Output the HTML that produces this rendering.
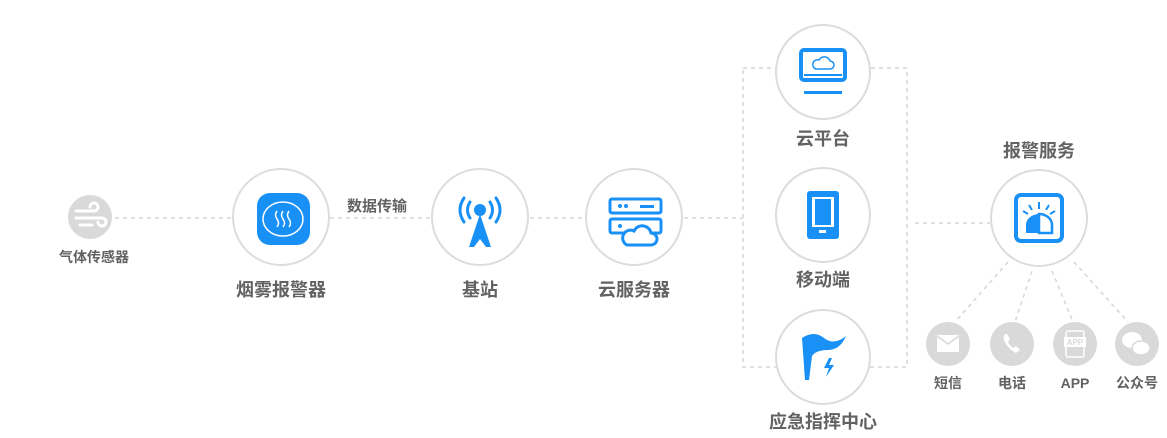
<!DOCTYPE html>
<html><head><meta charset="utf-8"><style>
body{margin:0;width:1167px;height:438px;background:#fff;overflow:hidden;font-family:"Liberation Sans","Noto Sans CJK SC",sans-serif}
svg{position:absolute;left:0;top:0}
.t{font-family:"Liberation Sans","Noto Sans CJK SC",sans-serif;font-weight:bold;fill:#626262;text-anchor:middle}
</style></head><body>
<svg width="1167" height="438" viewBox="0 0 1167 438">
<g stroke="#d6d6d6" stroke-width="1.5" stroke-dasharray="4,4" fill="none">
<line x1="115" y1="218" x2="232" y2="218"/>
<line x1="330" y1="218" x2="432" y2="218"/>
<line x1="530" y1="218" x2="586" y2="218"/>
<line x1="684" y1="218" x2="743" y2="218"/>
<rect x="743" y="68" width="164" height="299"/>
<line x1="915" y1="223" x2="990" y2="223"/>
<line x1="1008" y1="262" x2="955" y2="322"/>
<line x1="1032" y1="271" x2="1015" y2="322"/>
<line x1="1052" y1="271" x2="1073" y2="322"/>
<line x1="1074" y1="262" x2="1128" y2="322"/>
</g>
<g fill="#fff" stroke="#dcdcdc" stroke-width="2">
<circle cx="281" cy="217" r="48"/>
<circle cx="480" cy="217" r="48"/>
<circle cx="634" cy="217" r="48"/>
<circle cx="823" cy="72" r="47"/>
<circle cx="823" cy="215" r="47"/>
<circle cx="823" cy="357" r="47"/>
<circle cx="1039" cy="218" r="48"/>
</g>
<g fill="#d9d9d9">
<circle cx="90" cy="217" r="22"/>
<circle cx="948" cy="344" r="22"/>
<circle cx="1012" cy="344" r="22"/>
<circle cx="1075" cy="344" r="22"/>
<circle cx="1137" cy="344" r="22"/>
</g>
<g stroke="#fff" stroke-width="3" stroke-linecap="round" fill="none">
<path d="M76 211h18a4 4 0 1 0-4-4"/><path d="M76 218h26a4 4 0 1 1-4 4"/><path d="M80 225h12"/>
</g>
<rect x="257" y="193" width="53" height="52" rx="13" fill="#1890f5"/>
<ellipse cx="283" cy="219" rx="20" ry="17" fill="none" stroke="#fff" stroke-width="1.5"/>
<g stroke="#fff" stroke-width="1.5" fill="none"><path d="M277 211q-3 4 0 8t0 8"/><path d="M283 211q-3 4 0 8t0 8"/><path d="M289 211q-3 4 0 8t0 8"/></g>
<g fill="#1890f5"><circle cx="480" cy="210" r="6"/><path d="M480 214l-11 33h5l6-8 6 8h5z"/></g>
<g stroke="#1890f5" stroke-width="3" fill="none" stroke-linecap="round"><path d="M470 202q-5 8 0 16"/><path d="M490 202q5 8 0 16"/><path d="M464 198q-8 12 0 24"/><path d="M496 198q8 12 0 24"/></g>
<g stroke="#1890f5" stroke-width="3" fill="none"><rect x="610" y="199" width="51" height="14" rx="2"/><rect x="610" y="219" width="51" height="14" rx="2"/><path d="M627 245h24a6 6 0 0 0 0-12 9 9 0 0 0-17-2 6 6 0 0 0-7 14z" fill="#fff"/></g>
<g fill="#1890f5"><circle cx="620" cy="206" r="2"/><circle cx="626" cy="206" r="2"/><rect x="640" y="205" width="14" height="3"/><circle cx="620" cy="226" r="2"/></g>
<rect x="801" y="50" width="44" height="30" rx="3" fill="#fff" stroke="#1890f5" stroke-width="4"/>
<line x1="804" y1="75" x2="842" y2="75" stroke="#1890f5" stroke-width="2"/>
<rect x="804" y="91" width="38" height="3" fill="#1890f5"/>
<path d="M816 69h14a4 4 0 0 0 0-8 6 6 0 0 0-11-1 4 4 0 0 0-3 9z" fill="none" stroke="#1890f5" stroke-width="1.5"/>
<rect x="807" y="191" width="32" height="48" rx="3" fill="#1890f5"/>
<rect x="812" y="197" width="22" height="30" fill="#fff"/><rect x="815" y="199" width="16" height="26" fill="#1890f5"/>
<rect x="819" y="230" width="7" height="3" fill="#fff"/>
<path d="M802 338q12-8 22 0t22-2q-6 14-18 14t-16 6l-3 24h-4z" fill="#1890f5"/>
<path d="M829 358l-5 10h5l-3 9 8-12h-5l3-7z" fill="#1890f5"/>
<rect x="1016" y="195" width="46" height="46" rx="5" fill="none" stroke="#1890f5" stroke-width="4"/>
<path d="M1026 233v-8a13 11 0 0 1 13-11v19z" fill="#1890f5"/><path d="M1039 214a13 11 0 0 1 13 11v8h-13z" fill="none" stroke="#1890f5" stroke-width="2.5"/>
<g stroke="#1890f5" stroke-width="2"><line x1="1039" y1="202" x2="1039" y2="209"/><line x1="1029" y1="205" x2="1032" y2="210"/><line x1="1049" y1="205" x2="1046" y2="210"/><line x1="1023" y1="211" x2="1028" y2="214"/><line x1="1055" y1="211" x2="1050" y2="214"/></g>
<rect x="937" y="335" width="22" height="17" fill="#fff"/><path d="M937 336l11 8 11-8" stroke="#d9d9d9" stroke-width="1.5" fill="none"/>
<path d="M1005 334q-3 4 1 10t10 9l4-3-4-4-3 2q-3-2-5-6l2-3-3-5z" fill="#fff"/>
<rect x="1066" y="331" width="18" height="26" rx="2" fill="none" stroke="#fff" stroke-width="1.5"/>
<rect x="1064" y="337" width="22" height="10" fill="#fff"/><text x="1075" y="345" font-size="8" font-family="Liberation Sans" fill="#d9d9d9" text-anchor="middle" font-weight="bold">APP</text>
<ellipse cx="1132" cy="340" rx="10" ry="8" fill="#fff"/><ellipse cx="1141" cy="348" rx="9" ry="7" fill="#fff" stroke="#d9d9d9" stroke-width="1.5"/>
<text class="t" x="94" y="262" font-size="14">气体传感器</text>
<text class="t" x="281" y="296" font-size="18">烟雾报警器</text>
<text class="t" x="377" y="211" font-size="15">数据传输</text>
<text class="t" x="480" y="296" font-size="18">基站</text>
<text class="t" x="634" y="296" font-size="18">云服务器</text>
<text class="t" x="823" y="145" font-size="18">云平台</text>
<text class="t" x="823" y="286" font-size="18">移动端</text>
<text class="t" x="823" y="428" font-size="18">应急指挥中心</text>
<text class="t" x="1039" y="157" font-size="18">报警服务</text>
<text class="t" x="948" y="388" font-size="14">短信</text>
<text class="t" x="1012" y="388" font-size="14">电话</text>
<text class="t" x="1075" y="388" font-size="14">APP</text>
<text class="t" x="1137" y="388" font-size="14">公众号</text>
</svg>
</body></html>
